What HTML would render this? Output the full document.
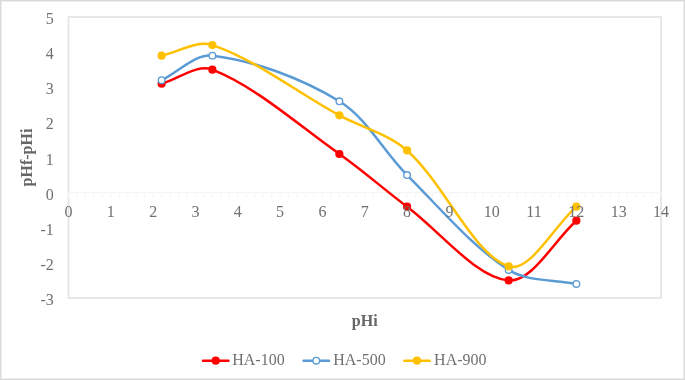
<!DOCTYPE html><html><head><meta charset="utf-8"><style>html,body{margin:0;padding:0;background:#fff;}svg{display:block;}text{font-family:"Liberation Serif",serif;}</style></head><body>
<svg width="685" height="380" viewBox="0 0 685 380">
<rect x="0" y="0" width="685" height="380" fill="#fff"/>
<rect x="0.5" y="0.5" width="684" height="379" fill="none" stroke="#d9d9d9" stroke-width="1"/>
<rect x="1.5" y="1.5" width="682" height="377" fill="none" stroke="#eeeeee" stroke-width="1"/>
<rect x="68.50" y="17.00" width="592.50" height="281.00" fill="none" stroke="#e5e5e5" stroke-width="1.8"/>
<path d="M68.50 192.62V197.82M76.96 192.62V197.82M85.43 192.62V197.82M93.89 192.62V197.82M102.36 192.62V197.82M110.82 192.62V197.82M119.29 192.62V197.82M127.75 192.62V197.82M136.21 192.62V197.82M144.68 192.62V197.82M153.14 192.62V197.82M161.61 192.62V197.82M170.07 192.62V197.82M178.54 192.62V197.82M187.00 192.62V197.82M195.46 192.62V197.82M203.93 192.62V197.82M212.39 192.62V197.82M220.86 192.62V197.82M229.32 192.62V197.82M237.79 192.62V197.82M246.25 192.62V197.82M254.71 192.62V197.82M263.18 192.62V197.82M271.64 192.62V197.82M280.11 192.62V197.82M288.57 192.62V197.82M297.04 192.62V197.82M305.50 192.62V197.82M313.96 192.62V197.82M322.43 192.62V197.82M330.89 192.62V197.82M339.36 192.62V197.82M347.82 192.62V197.82M356.29 192.62V197.82M364.75 192.62V197.82M373.21 192.62V197.82M381.68 192.62V197.82M390.14 192.62V197.82M398.61 192.62V197.82M407.07 192.62V197.82M415.54 192.62V197.82M424.00 192.62V197.82M432.46 192.62V197.82M440.93 192.62V197.82M449.39 192.62V197.82M457.86 192.62V197.82M466.32 192.62V197.82M474.79 192.62V197.82M483.25 192.62V197.82M491.71 192.62V197.82M500.18 192.62V197.82M508.64 192.62V197.82M517.11 192.62V197.82M525.57 192.62V197.82M534.04 192.62V197.82M542.50 192.62V197.82M550.96 192.62V197.82M559.43 192.62V197.82M567.89 192.62V197.82M576.36 192.62V197.82M584.82 192.62V197.82M593.29 192.62V197.82M601.75 192.62V197.82M610.21 192.62V197.82M618.68 192.62V197.82M627.14 192.62V197.82M635.61 192.62V197.82M644.07 192.62V197.82M652.54 192.62V197.82M661.00 192.62V197.82" stroke="#f5f5f5" stroke-width="1.1" fill="none"/>
<path d="M68.50 192.62H661.00" stroke="#f5f5f5" stroke-width="1.3" fill="none"/>
<path d="M161.61 83.74C178.54 79.05 197.17 63.67 212.39 69.69C256.42 87.09 297.84 124.77 339.36 153.99C362.73 170.43 384.16 189.56 407.07 206.68C440.59 231.71 475.82 277.71 508.64 280.44C532.25 282.40 553.79 240.63 576.36 220.72" stroke="#ff0000" stroke-width="2.5" fill="none" stroke-linecap="round" stroke-linejoin="round"/>
<circle cx="161.61" cy="83.74" r="4.1" fill="#ff0000"/>
<circle cx="212.39" cy="69.69" r="4.1" fill="#ff0000"/>
<circle cx="339.36" cy="153.99" r="4.1" fill="#ff0000"/>
<circle cx="407.07" cy="206.68" r="4.1" fill="#ff0000"/>
<circle cx="508.64" cy="280.44" r="4.1" fill="#ff0000"/>
<circle cx="576.36" cy="220.72" r="4.1" fill="#ff0000"/>
<path d="M161.61 80.22C178.54 72.03 194.92 53.57 212.39 55.64C254.17 60.59 302.11 78.45 339.36 101.30C367.00 118.26 383.44 151.53 407.07 175.06C439.87 207.73 470.97 245.66 508.64 269.90C527.39 281.96 553.79 279.27 576.36 283.95" stroke="#5b9bd5" stroke-width="2.5" fill="none" stroke-linecap="round" stroke-linejoin="round"/>
<circle cx="161.61" cy="80.22" r="3.3" fill="#fff" stroke="#5b9bd5" stroke-width="1.35"/>
<circle cx="212.39" cy="55.64" r="3.3" fill="#fff" stroke="#5b9bd5" stroke-width="1.35"/>
<circle cx="339.36" cy="101.30" r="3.3" fill="#fff" stroke="#5b9bd5" stroke-width="1.35"/>
<circle cx="407.07" cy="175.06" r="3.3" fill="#fff" stroke="#5b9bd5" stroke-width="1.35"/>
<circle cx="508.64" cy="269.90" r="3.3" fill="#fff" stroke="#5b9bd5" stroke-width="1.35"/>
<circle cx="576.36" cy="283.95" r="3.3" fill="#fff" stroke="#5b9bd5" stroke-width="1.35"/>
<path d="M161.61 55.64C178.54 52.12 196.79 39.86 212.39 45.10C256.04 59.76 296.82 92.33 339.36 115.35C361.72 127.45 388.39 133.81 407.07 150.47C444.82 184.15 473.06 254.57 508.64 266.39C529.49 273.31 553.79 226.58 576.36 206.68" stroke="#ffc000" stroke-width="2.5" fill="none" stroke-linecap="round" stroke-linejoin="round"/>
<circle cx="161.61" cy="55.64" r="4.1" fill="#ffc000"/>
<circle cx="212.39" cy="45.10" r="4.1" fill="#ffc000"/>
<circle cx="339.36" cy="115.35" r="4.1" fill="#ffc000"/>
<circle cx="407.07" cy="150.47" r="4.1" fill="#ffc000"/>
<circle cx="508.64" cy="266.39" r="4.1" fill="#ffc000"/>
<circle cx="576.36" cy="206.68" r="4.1" fill="#ffc000"/>
<defs><filter id="gs" x="0" y="0" width="685" height="380" filterUnits="userSpaceOnUse"><feOffset dx="0" dy="0"/></filter></defs>
<g filter="url(#gs)">
<text x="53.8" y="305.00" font-size="16" fill="#707070" text-anchor="end">-3</text>
<text x="53.8" y="269.88" font-size="16" fill="#707070" text-anchor="end">-2</text>
<text x="53.8" y="234.75" font-size="16" fill="#707070" text-anchor="end">-1</text>
<text x="53.8" y="199.62" font-size="16" fill="#707070" text-anchor="end">0</text>
<text x="53.8" y="164.50" font-size="16" fill="#707070" text-anchor="end">1</text>
<text x="53.8" y="129.38" font-size="16" fill="#707070" text-anchor="end">2</text>
<text x="53.8" y="94.25" font-size="16" fill="#707070" text-anchor="end">3</text>
<text x="53.8" y="59.12" font-size="16" fill="#707070" text-anchor="end">4</text>
<text x="53.8" y="24.00" font-size="16" fill="#707070" text-anchor="end">5</text>
<text x="68.50" y="217.2" font-size="16" fill="#707070" text-anchor="middle">0</text>
<text x="110.82" y="217.2" font-size="16" fill="#707070" text-anchor="middle">1</text>
<text x="153.14" y="217.2" font-size="16" fill="#707070" text-anchor="middle">2</text>
<text x="195.46" y="217.2" font-size="16" fill="#707070" text-anchor="middle">3</text>
<text x="237.79" y="217.2" font-size="16" fill="#707070" text-anchor="middle">4</text>
<text x="280.11" y="217.2" font-size="16" fill="#707070" text-anchor="middle">5</text>
<text x="322.43" y="217.2" font-size="16" fill="#707070" text-anchor="middle">6</text>
<text x="364.75" y="217.2" font-size="16" fill="#707070" text-anchor="middle">7</text>
<text x="407.07" y="217.2" font-size="16" fill="#707070" text-anchor="middle">8</text>
<text x="449.39" y="217.2" font-size="16" fill="#707070" text-anchor="middle">9</text>
<text x="491.71" y="217.2" font-size="16" fill="#707070" text-anchor="middle">10</text>
<text x="534.04" y="217.2" font-size="16" fill="#707070" text-anchor="middle">11</text>
<text x="576.36" y="217.2" font-size="16" fill="#707070" text-anchor="middle">12</text>
<text x="618.68" y="217.2" font-size="16" fill="#707070" text-anchor="middle">13</text>
<text x="661.00" y="217.2" font-size="16" fill="#707070" text-anchor="middle">14</text>
<text x="364.75" y="326.2" font-size="16" font-weight="bold" fill="#666666" text-anchor="middle">pHi</text>
<text transform="translate(31.8 157.50) rotate(-90)" x="0" y="0" font-size="16" font-weight="bold" fill="#666666" text-anchor="middle">pHf-pHi</text>
<path d="M203.00 360.7H228.40" stroke="#ff0000" stroke-width="2.5" stroke-linecap="round"/>
<circle cx="215.7" cy="360.7" r="4.1" fill="#ff0000"/>
<text x="232.2" y="365.2" font-size="16" fill="#707070">HA-100</text>
<path d="M303.60 360.7H329.00" stroke="#5b9bd5" stroke-width="2.5" stroke-linecap="round"/>
<circle cx="316.3" cy="360.7" r="3.3" fill="#fff" stroke="#5b9bd5" stroke-width="1.35"/>
<text x="333.2" y="365.2" font-size="16" fill="#707070">HA-500</text>
<path d="M404.30 360.7H429.70" stroke="#ffc000" stroke-width="2.5" stroke-linecap="round"/>
<circle cx="417.0" cy="360.7" r="4.1" fill="#ffc000"/>
<text x="434.1" y="365.2" font-size="16" fill="#707070">HA-900</text>
</g>
</svg></body></html>
